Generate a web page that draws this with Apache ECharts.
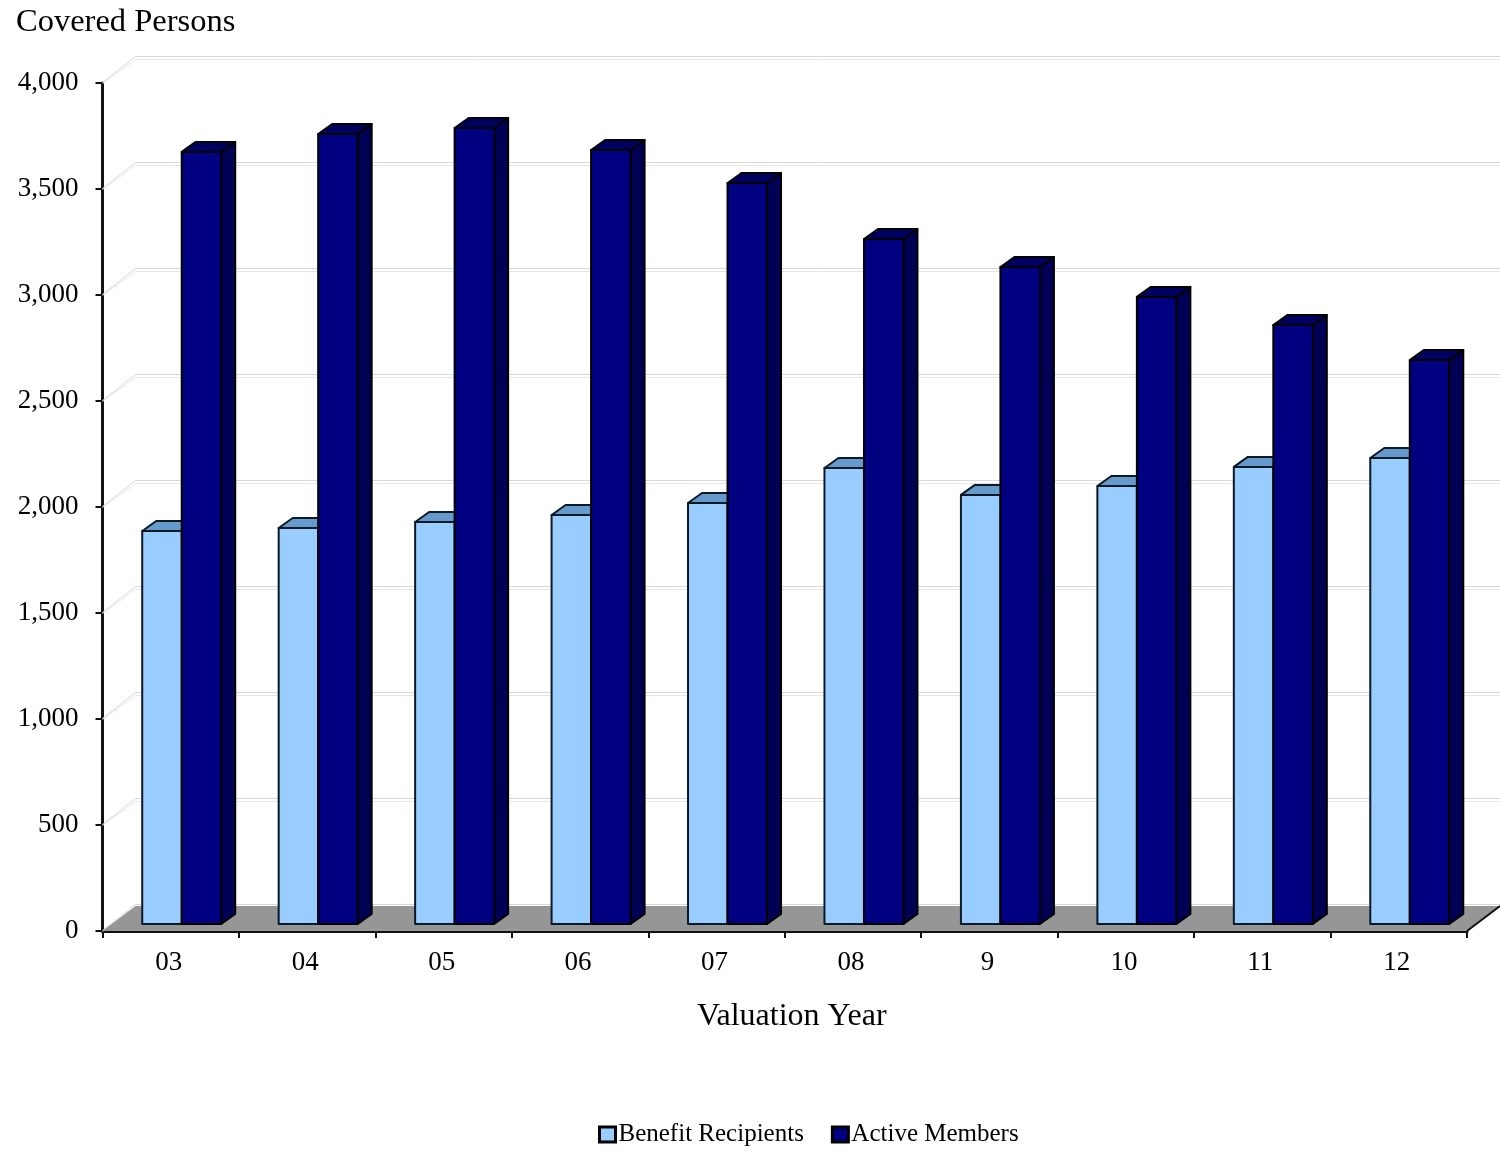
<!DOCTYPE html>
<html><head><meta charset="utf-8">
<style>html,body{margin:0;padding:0;background:#fff}#c{width:1500px;height:1152px}</style>
<script src="https://cdn.jsdelivr.net/npm/echarts@6/dist/echarts.min.js"></script>
</head><body><div id="c"></div>
<script>
const categories = ['03','04','05','06','07','08','9','10','11','12'];
const benefitRecipients = [1854,1868,1896,1929,1986,2151,2024,2066,2156,2198];
const activeMembers = [3642,3726,3755,3651,3495,3231,3099,2958,2825,2660];
const gridTicks = [0,500,1000,1500,2000,2500,3000,3500,4000];

const serif = '"Liberation Serif","Times New Roman",serif';
const wallDX = 33, wallDY = 25;
const barDX = 14, barDY = 10, barW = 39.5, baseLift = 7;

function floorItem(params, api) {
  const g = params.coordSys;
  const b = g.y + g.height, l = g.x, r = g.x + g.width;
  return { type: 'group', silent: true, children: [
    { type: 'polygon', shape: { points: [[l,b],[r,b],[r+wallDX,b-wallDY],[l+wallDX,b-wallDY]] },
      style: { fill: '#969696' } },
    { type: 'line', shape: { x1: r, y1: b, x2: r + wallDX, y2: b - wallDY },
      style: { stroke: '#111', lineWidth: 2 } }
  ]};
}
function wallItem(params, api) {
  const g = params.coordSys;
  const y = api.coord([0, api.value(0)])[1];
  const l = g.x, r = g.x + g.width;
  const mk = (d, c) => ({ type: 'polyline', silent: true,
    shape: { points: [[l, y + d * 0.3],[l + wallDX, y - wallDY + d],[r + wallDX, y - wallDY + d]] },
    style: { stroke: c, lineWidth: 1, fill: null } });
  return { type: 'group', children: [mk(-1.5, '#d8d8d8'), mk(1.5, '#e6e6e6')] };
}
function barRenderer(offset, front, top, side, edge) {
  return function (params, api) {
    const p = api.coord([api.value(0), api.value(1)]);
    const base = api.coord([api.value(0), 0])[1] - baseLift;
    const x0 = p[0] + offset, x1 = x0 + barW, y0 = p[1] - baseLift;
    const st = (f) => ({ fill: f, stroke: edge, lineWidth: 2, lineJoin: 'round' });
    return { type: 'group', children: [
      { type: 'polygon', shape: { points: [[x1,y0],[x1+barDX,y0-barDY],[x1+barDX,base-barDY],[x1,base]] }, style: st(side) },
      { type: 'polygon', shape: { points: [[x0,y0],[x0+barDX,y0-barDY],[x1+barDX,y0-barDY],[x1,y0]] }, style: st(top) },
      { type: 'rect', shape: { x: x0, y: y0, width: barW, height: base - y0 }, style: st(front) }
    ]};
  };
}

const chart = echarts.init(document.getElementById('c'), null, { renderer: 'canvas' });
chart.setOption({
  animation: false,
  backgroundColor: '#fff',
  title: { text: 'Covered Persons', left: 11, top: 1, textStyle: { fontFamily: serif, fontSize: 32.5, fontWeight: 'normal', color: '#000' } },
  grid: { left: 102.5, right: 33, top: 83, bottom: 221, containLabel: false },
  legend: {
    left: 593, top: 1117, itemWidth: 16, itemHeight: 15, itemGap: 27, icon: 'rect',
    data: ['Benefit Recipients','Active Members'],
    selectedMode: false,
    itemStyle: { borderColor: '#000', borderWidth: 3 },
    textStyle: { fontFamily: serif, fontSize: 25, color: '#000', padding: [0,0,0,-2] }
  },
  xAxis: {
    type: 'category', data: categories, boundaryGap: true,
    name: 'Valuation Year', nameLocation: 'middle', nameGap: 70,
    nameTextStyle: { fontFamily: serif, fontSize: 32, color: '#000', padding: [0,0,0,14] },
    axisLine: { show: true, lineStyle: { color: '#111', width: 3 } },
    axisTick: { show: true, length: 7, lineStyle: { color: '#111', width: 2 } },
    axisLabel: { fontFamily: serif, fontSize: 27, color: '#000', margin: 18, padding: [0,4,0,0] },
    splitLine: { show: false }
  },
  yAxis: {
    type: 'value', min: 0, max: 4000, interval: 500,
    axisLine: { show: true, lineStyle: { color: '#111', width: 3 } },
    axisTick: { show: true, length: 7, lineStyle: { color: '#111', width: 2 } },
    axisLabel: { fontFamily: serif, fontSize: 27, color: '#000', margin: 24 },
    splitLine: { show: false }
  },
  series: [
    { name: 'walls', type: 'custom', silent: true, clip: false, z: 1, coordinateSystem: 'cartesian2d',
      encode: { y: 0 }, data: gridTicks.map(v => [v]), renderItem: wallItem },
    { name: 'floor', type: 'custom', silent: true, clip: false, z: 2, coordinateSystem: 'cartesian2d',
      data: [[0]], renderItem: floorItem },
    { name: 'Benefit Recipients', type: 'custom', clip: false, z: 3,
      itemStyle: { color: '#99ccff' },
      encode: { x: 0, y: 1 },
      data: benefitRecipients.map((v, i) => [i, v]),
      renderItem: barRenderer(-28.5, '#99ccff', '#6699cc', '#6b93bc', '#0c1a26') },
    { name: 'Active Members', type: 'custom', clip: false, z: 4,
      itemStyle: { color: '#000080' },
      encode: { x: 0, y: 1 },
      data: activeMembers.map((v, i) => [i, v]),
      renderItem: barRenderer(11, '#000080', '#000060', '#000055', '#000') }
  ]
});
</script></body></html>
